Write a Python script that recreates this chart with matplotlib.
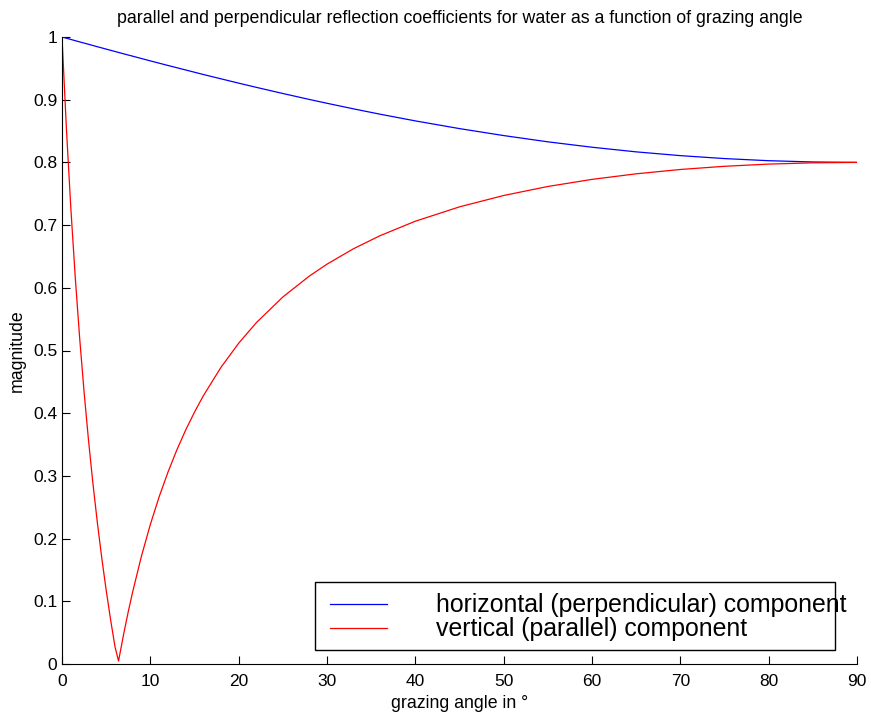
import matplotlib
matplotlib.use("Agg")
import matplotlib.pyplot as plt
from matplotlib.patches import Rectangle

plt.rcParams['font.family'] = ['Liberation Sans', 'DejaVu Sans']

# grazing angle (degrees)
angle_h = [0, 0.5, 1, 2, 3, 4, 5, 6, 7, 8, 10, 12, 14, 16, 18, 20, 22, 25, 28, 30,
           33, 36, 40, 45, 50, 55, 60, 65, 70, 75, 80, 85, 90]
# horizontal (perpendicular) component magnitude
mag_h = [1.0, 0.9981, 0.9961, 0.9922, 0.9884, 0.9845, 0.9807, 0.9769, 0.9731, 0.9694,
         0.9619, 0.9546, 0.9474, 0.9402, 0.9333, 0.9264, 0.9197, 0.9099, 0.9004, 0.8943,
         0.8854, 0.8769, 0.8662, 0.8539, 0.8428, 0.8328, 0.8242, 0.8168, 0.8108, 0.8061,
         0.8027, 0.8007, 0.8]

angle_v = [0, 0.5, 1, 1.5, 2, 2.5, 3, 3.5, 4, 4.5, 5, 5.5, 6, 6.4, 7, 7.5, 8, 9, 10,
           11, 12, 13, 14, 15, 16, 18, 20, 22, 25, 28, 30, 33, 36, 40, 45, 50, 55,
           60, 65, 70, 75, 80, 85, 90]
# vertical (parallel) component magnitude
mag_v = [1.0, 0.8535, 0.7270, 0.6167, 0.5197, 0.4337, 0.3569, 0.2880, 0.2257, 0.1693,
         0.1178, 0.0707, 0.0275, 0.0047, 0.0492, 0.0834, 0.1151, 0.1723, 0.2225,
         0.2668, 0.3061, 0.3414, 0.3731, 0.4017, 0.4278, 0.4732, 0.5116, 0.5444,
         0.5853, 0.6187, 0.6377, 0.6623, 0.6831, 0.7062, 0.7291, 0.7472, 0.7616,
         0.7729, 0.7818, 0.7887, 0.7938, 0.7973, 0.7993, 0.8]

fig = plt.figure(figsize=(8.71, 7.18), dpi=100)
ax = fig.add_axes([62/871, 54/718, 795/871, 627/718])

ax.plot(angle_h, mag_h, color='#0000ff', lw=0.9,
        label='horizontal (perpendicular) component')
ax.plot(angle_v, mag_v, color='#ff0000', lw=0.9,
        label='vertical (parallel) component')

ax.set_xlim(0, 90)
ax.set_ylim(0, 1)
ax.set_xticks(range(0, 91, 10))
ax.set_yticks([i / 10 for i in range(11)])
ax.set_yticklabels(['0', '0.1', '0.2', '0.3', '0.4', '0.5', '0.6', '0.7', '0.8', '0.9', '1'])
ax.tick_params(direction='in', length=6, width=0.8, labelsize=12.5)
ax.tick_params(axis='y', pad=3.5)
ax.tick_params(axis='x', pad=7.5)
for s in ['top', 'right']:
    ax.spines[s].set_visible(False)
for s in ['left', 'bottom']:
    ax.spines[s].set_linewidth(0.8)

ax.set_title('parallel and perpendicular reflection coefficients for water as a function of grazing angle',
             fontsize=12.8, pad=10)
ax.set_xlabel('grazing angle in °', fontsize=12.8, labelpad=4)
ax.set_ylabel('magnitude', fontsize=12.8, labelpad=5)

# legend (MATLAB style: text may overflow the box)
leg = ax.legend(loc='center left', bbox_to_anchor=(0.337, 0.0742), fontsize=17.9,
                frameon=False, handlelength=2.3, handletextpad=1.95,
                labelspacing=0.0, borderpad=0, borderaxespad=0)
ax.add_patch(Rectangle((0.318, 0.0223), 0.654, 0.1085, transform=ax.transAxes,
                       facecolor='white', edgecolor='black', lw=1.0, zorder=4))
leg.set_zorder(5)

fig.savefig('out.png', dpi=100)
